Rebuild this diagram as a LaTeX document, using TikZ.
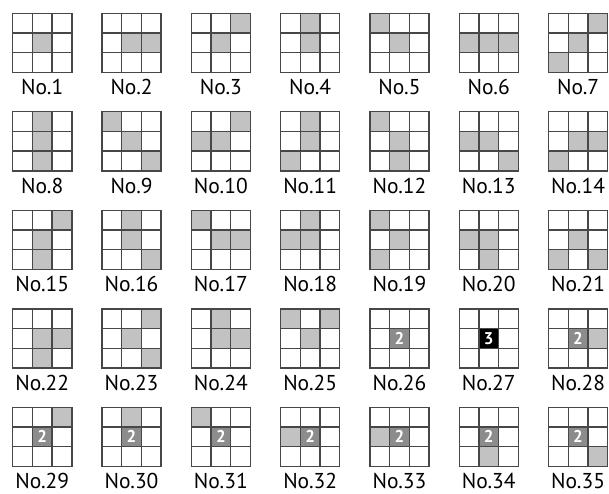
\documentclass[tikz,border=0pt]{standalone}
\usepackage{fontspec}
\setmainfont{PT Sans}
\usetikzlibrary{calc}
\tikzset{
  gridline/.style={draw=black!72, line width=1.4pt},
  gridbox/.style={draw=black!72, line width=1.4pt, minimum size=59.1pt, inner sep=0pt, outer sep=0pt},
  shadecell/.style={fill=black!24},
  twocell/.style={fill=black!45},
  threecell/.style={fill=black},
  digit/.style={text=white, font=\bfseries\fontsize{17}{17}\selectfont, inner sep=0pt},
  lbl/.style={font=\fontsize{21.5}{21.5}\selectfont, anchor=base, inner sep=0pt, text depth=0pt},
}
\begin{document}
\begin{tikzpicture}[x=1pt,y=-1pt]
\useasboundingbox (0,0) rectangle (609,494);
% shaded cells: panel / column / row
\foreach \n/\c/\r in {
  1/1/1,
  2/1/1, 2/2/1,
  3/2/0, 3/1/1,
  4/1/0, 4/1/1,
  5/0/0, 5/1/1,
  6/0/1, 6/1/1, 6/2/1,
  7/2/0, 7/1/1, 7/0/2,
  8/1/0, 8/1/1, 8/1/2,
  9/0/0, 9/1/1, 9/2/2,
  10/2/0, 10/0/1, 10/1/1,
  11/1/0, 11/1/1, 11/0/2,
  12/0/0, 12/1/1, 12/1/2,
  13/0/1, 13/1/1, 13/2/2,
  14/1/1, 14/2/1, 14/0/2,
  15/2/0, 15/1/1, 15/1/2,
  16/1/0, 16/1/1, 16/2/2,
  17/0/0, 17/1/1, 17/2/1,
  18/1/0, 18/0/1, 18/1/1,
  19/0/0, 19/1/1, 19/0/2,
  20/0/1, 20/1/1, 20/1/2,
  21/1/1, 21/0/2, 21/2/2,
  22/1/1, 22/2/1, 22/1/2,
  23/2/0, 23/1/1, 23/2/2,
  24/1/0, 24/1/1, 24/2/1,
  25/0/0, 25/2/0, 25/1/1,
  28/2/1, 29/2/0, 30/1/0, 31/0/0,
  32/0/1, 33/0/1, 34/1/2, 35/2/2}{
  \pgfmathsetmacro\cx{42.25+89.3*mod(\n-1,7)+(\c-1)*19.7}
  \pgfmathsetmacro\cy{42.85+98.5*floor((\n-1)/7)+(\r-1)*19.7}
  \fill[shadecell] (\cx-9.85,\cy-9.85) rectangle (\cx+9.85,\cy+9.85);
}
% grids and labels
\foreach \n in {1,...,35}{
  \pgfmathsetmacro\cx{42.25+89.3*mod(\n-1,7)}
  \pgfmathsetmacro\cy{42.85+98.5*floor((\n-1)/7)}
  \ifnum\n>25
    \ifnum\n=27
      \fill[threecell] (\cx-9.85,\cy-9.85) rectangle (\cx+9.85,\cy+9.85);
      \node[digit] (d\n) at (\cx,\cy) {3};
    \else
      \fill[twocell] (\cx-9.85,\cy-9.85) rectangle (\cx+9.85,\cy+9.85);
      \node[digit] (d\n) at (\cx,\cy) {2};
    \fi
  \fi
  \node[gridbox] (g\n) at (\cx,\cy) {};
  \draw[gridline] ($(g\n.north west)!1/3!(g\n.north east)$) -- ($(g\n.south west)!1/3!(g\n.south east)$);
  \draw[gridline] ($(g\n.north west)!2/3!(g\n.north east)$) -- ($(g\n.south west)!2/3!(g\n.south east)$);
  \draw[gridline] ($(g\n.north west)!1/3!(g\n.south west)$) -- ($(g\n.north east)!1/3!(g\n.south east)$);
  \draw[gridline] ($(g\n.north west)!2/3!(g\n.south west)$) -- ($(g\n.north east)!2/3!(g\n.south east)$);
  \node[lbl] (l\n) at (\cx,\cy+51.8) {No.\n};
}
\end{tikzpicture}
\end{document}
